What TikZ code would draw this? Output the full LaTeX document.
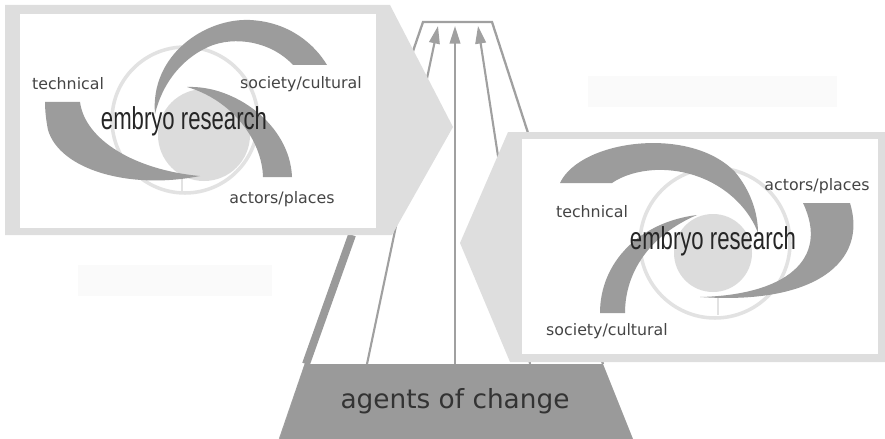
\documentclass[tikz,border=0pt]{standalone}
\usepackage{fontspec}
\setmainfont{DejaVu Sans}
\newfontfamily\narrowfont{Liberation Sans}
\usepackage{graphicx}
\usepackage{tikz}
\usetikzlibrary{arrows.meta,calc}
\usetikzlibrary{positioning}
\definecolor{framegray}{HTML}{DEDEDE}
\definecolor{armgray}{HTML}{9C9C9C}
\definecolor{ringgray}{HTML}{E2E2E2}
\definecolor{diskgray}{HTML}{DCDCDC}
\definecolor{linegray}{HTML}{A0A0A0}
\definecolor{basegray}{HTML}{9A9A9A}
\definecolor{textgray}{HTML}{454545}
\tikzset{
    %Define standard arrow tip
    >={Triangle[width=6pt,length=10pt]},
    % Define arrow style
    pil/.style={
           ->,
           draw=linegray,
           line width=1.2pt,},
    % spiral parts
    arm/.style={fill=armgray},
    ring/.style={draw=ringgray, line width=2pt},
    lbl/.style={text=textgray, font=\fontsize{9}{10}\selectfont, inner sep=0pt},
    core/.style={text=black!85, inner sep=0pt}
}
\newcommand\embryo{\scalebox{0.7}[1]{\narrowfont\fontsize{18}{18}\selectfont embryo research}}

\begin{document}
\begin{tikzpicture}[x=0.02cm,y=-0.02cm]
  \useasboundingbox (0,0) rectangle (885,439);
  \coordinate (tl) at (423,22);
  \coordinate (tr) at (492,22);
  \coordinate (bl) at (280,439);
  \coordinate (br) at (633,439);
  \coordinate (a1) at (367,364);
  \coordinate (a2) at (455,364);
  \coordinate (a3) at (530,364);
  \coordinate (h1) at (438,26);
  \coordinate (h2) at (455,26);
  \coordinate (h3) at (478,26);
  % funnel
  \draw[linegray, line width=1.3pt] (bl) -- (tl) -- (tr) -- (603,364);
  \draw[basegray, line width=4.5pt] (352,235) -- (306,364);
  \draw [pil] (a1) -- (h1);
  \draw [pil] (a2) -- (h2);
  \draw [pil] (a3) -- (h3);
  % empty boxes
  \fill[gray!4] (78,265) rectangle (272,296);
  \fill[gray!4] (588,76) rectangle (837,107);
  % left panel
  \fill[framegray] (5,5) -- (390,5) -- (453,127) -- (392,235) -- (5,235) -- cycle;
  \fill[white] (20,14) rectangle (376,228);
  \draw[ring] (185,120) circle (73);
  \draw[ring, line width=1pt] (182,178) -- (182,192);
  \fill[diskgray] (204,135) circle (46);
  \fill[arm] (155,114) .. controls (150,55) and (205,18) .. (250,20) .. controls (290,22) and (315,45) .. (327,65)
     -- (293,65) .. controls (272,42) and (235,35) .. (208,47) .. controls (180,60) and (162,85) .. (155,114) -- cycle;
  \fill[arm] (45,102) -- (80,102) .. controls (85,140) and (135,170) .. (200,176)
     .. controls (130,190) and (60,170) .. (48,130) .. controls (46,120) and (45,110) .. (45,102) -- cycle;
  \fill[arm] (187,87) .. controls (235,85) and (290,125) .. (292,177)
     -- (263,177) .. controls (262,140) and (232,100) .. (187,87) -- cycle;
  \node (t1) at (68,84) [lbl] {technical};
  \node (s1) at (301,84) [lbl] {society/cultural};
  \node (p1) at (282,199) [lbl] {actors/places};
  \node (e1) at (184,121) [core] {\embryo};
  % right panel
  \fill[framegray] (508,132) -- (885,132) -- (885,362) -- (510,362) -- (460,243) -- cycle;
  \fill[white] (522,139) rectangle (878,354);
  \draw[ring] (715,243) circle (75);
  \draw[ring, line width=1pt] (718,297) -- (718,315);
  \fill[diskgray] (713,253) circle (39);
  \fill[arm] (560,183) .. controls (580,140) and (690,125) .. (735,172) .. controls (750,190) and (758,212) .. (758,233)
     .. controls (745,198) and (705,168) .. (655,170) .. controls (637,171) and (622,176) .. (612,183) -- cycle;
  \fill[arm] (803,203) -- (850,203) .. controls (868,262) and (815,305) .. (700,297)
     .. controls (785,295) and (830,260) .. (803,203) -- cycle;
  \fill[arm] (697,215) .. controls (640,222) and (600,262) .. (600,313)
     -- (625,313) .. controls (625,272) and (650,235) .. (697,215) -- cycle;
  \node (t2) at (592,212) [lbl] {technical};
  \node (p2) at (817,186) [lbl] {actors/places};
  \node (s2) at (607,331) [lbl] {society/cultural};
  \node (e2) at (713,241) [core] {\embryo};
  % base
  \fill[basegray] (305,364) -- (603,364) -- (br) -- (bl) -- cycle;
  \node (agents) at (455,401) [text=black!80, font=\fontsize{15}{16}\selectfont] {agents of change};
\end{tikzpicture}
\end{document}
